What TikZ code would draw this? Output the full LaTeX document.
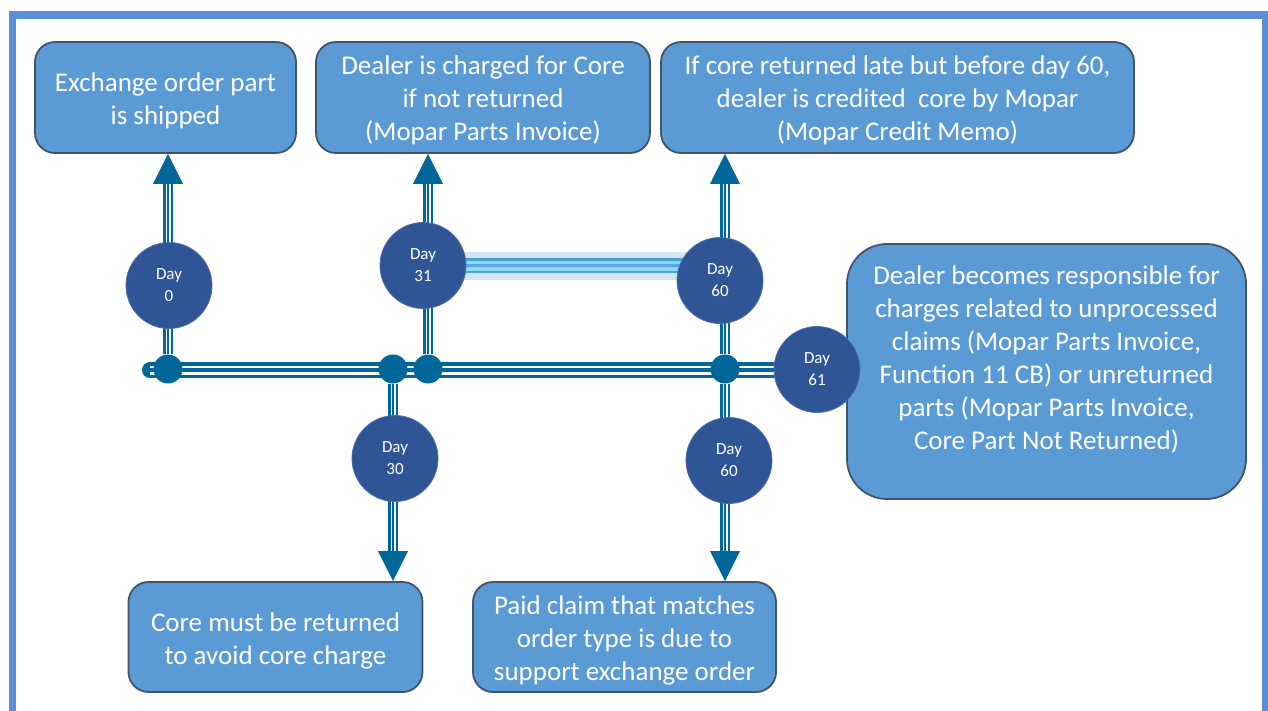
\documentclass[tikz,border=0pt]{standalone}
\usepackage{fontspec}
\setmainfont{Carlito}
\usetikzlibrary{arrows.meta,calc,backgrounds}
\pgfdeclarelayer{bottom}
\pgfsetlayers{bottom,background,main}
\definecolor{framecol}{HTML}{5B8FD5}
\definecolor{boxfill}{HTML}{5B9BD5}
\definecolor{boxline}{HTML}{42546A}
\definecolor{daycol}{HTML}{2F5597}
\definecolor{linecol}{HTML}{00679B}
\definecolor{glowa}{HTML}{4C9FD2}
\definecolor{glowb}{HTML}{8CD8F8}
\begin{document}
\begin{tikzpicture}[x=1pt,y=-1pt,
  infobox/.style={draw=boxline, line width=1.8pt, fill=boxfill, rounded corners=20pt, inner sep=0pt},
  boxtext/.style={text=white, align=center, font=\fontsize{27}{33}\selectfont, inner sep=0pt},
  daynode/.style={circle, fill=daycol, draw=daycol!85!white, line width=0.8pt, minimum size=86pt, inner sep=0pt, text=white, align=center, font=\fontsize{17}{22}\selectfont},
  dot/.style={circle, fill=linecol, minimum size=29pt, inner sep=0pt},
  vline/.style={draw=linecol, line width=9.5pt, -{Triangle[width=30pt,length=30pt,line width=0pt]}, postaction={draw=white, line width=5pt, -, shorten >=30pt}, postaction={draw=linecol, line width=1.8pt, -, shorten >=30pt}},
  hline/.style={draw=linecol, line width=16pt, line cap=round, postaction={draw=white, line width=9pt, line cap=butt}, postaction={draw=linecol, line width=3.5pt, line cap=butt}},
  glowline/.style={draw=glowa, line width=15pt, preaction={draw=glowa!55!white, opacity=0.45, line width=28pt}, postaction={draw=glowb, line width=10pt}, postaction={draw=glowa!80!glowb, line width=2.5pt}}
]
\useasboundingbox (0,0) rectangle (1268,710);
\begin{pgfonlayer}{bottom}
\fill[white] (0,0) rectangle (1268,710);
\end{pgfonlayer}
\draw[framecol, line width=7.5pt] (12.5,720) -- (12.5,15) -- (1265.5,15) -- (1265.5,720);

% boxes
\node[infobox, minimum width=261pt, minimum height=111pt] (b1) at (165.5,97.5) {};
\node[boxtext] (t1) at (165.5,100.5) {Exchange order part\\is shipped};
\node[infobox, minimum width=334pt, minimum height=111pt] (b2) at (483,97.5) {};
\node[boxtext] (t2) at (483,100.5) {Dealer is charged for Core\\if not returned\\(Mopar Parts Invoice)};
\node[infobox, minimum width=473pt, minimum height=111pt] (b3) at (897.5,97.5) {};
\node[boxtext] (t3) at (897.5,100.5) {If core returned late but before day 60,\\dealer is credited\ \ core by Mopar\\(Mopar Credit Memo)};
\node[infobox, rounded corners=40pt, minimum width=399pt, minimum height=255pt] (b4) at (1046.5,371.5) {};
\node[boxtext] (t4) at (1046.5,359) {Dealer becomes responsible for\\charges related to unprocessed\\claims (Mopar Parts Invoice,\\Function 11 CB) or unreturned\\parts (Mopar Parts Invoice,\\Core Part Not Returned)};
\node[infobox, minimum width=294pt, minimum height=110pt] (b5) at (275.5,637) {};
\node[boxtext] (t5) at (275.5,640.5) {Core must be returned\\to avoid core charge};
\node[infobox, minimum width=303pt, minimum height=110pt] (b6) at (624.5,637) {};
\node[boxtext] (t6) at (624.5,640) {Paid claim that matches\\order type is due to\\support exchange order};

% dots
\node[dot] (d0) at (168,369) {};
\node[dot] (d30) at (393,369) {};
\node[dot] (d31) at (428,369) {};
\node[dot] (d60) at (725,369) {};
\coordinate (hstart) at (150,370);

% day circles
\node[daynode] (c0) at (169,285.5) {Day\\0};
\node[daynode] (c31) at (423,265.5) {Day\\31};
\node[daynode] (c60t) at (720,280.5) {Day\\60};
\node[daynode] (c61) at (817,369.5) {Day\\61};
\node[daynode] (c30) at (395,458.5) {Day\\30};
\node[daynode] (c60b) at (729,460.5) {Day\\60};

\begin{pgfonlayer}{background}
\draw[hline] (hstart) -- (hstart -| c61);
\draw[glowline] (c31.center) ++(0,0) coordinate (g0) (g0) -- (g0 -| c60t);
\draw[vline] (d0) -- (d0 |- b1.south);
\draw[vline] (d31) -- (d31 |- b2.south);
\draw[vline] (d60) -- (d60 |- b3.south);
\draw[vline] (d30) -- (d30 |- b5.north);
\draw[vline] (d60) -- (d60 |- b6.north);
\end{pgfonlayer}
\end{tikzpicture}
\end{document}
